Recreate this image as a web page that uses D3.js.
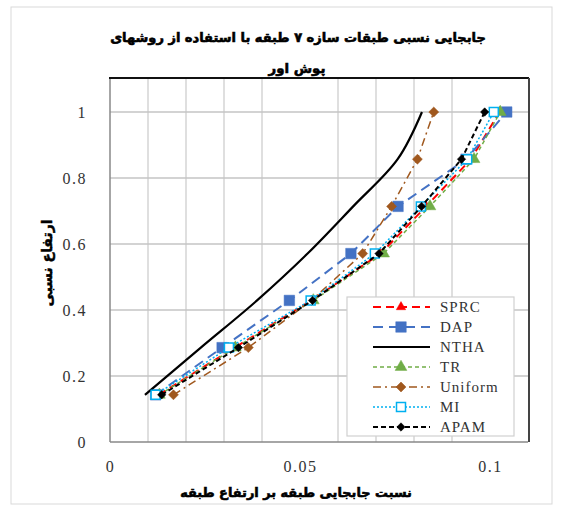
<!DOCTYPE html>
<html><head><meta charset="utf-8">
<script src="https://cdn.jsdelivr.net/npm/d3@7"></script>
<style>body{margin:0;background:#fff}svg{display:block}</style>
</head><body>
<svg id="c" width="565" height="508"></svg>
<script>
const levels = [0.143, 0.286, 0.429, 0.571, 0.714, 0.857, 1.0];
const SPRC    = [0.0128, 0.0328, 0.0530, 0.0712, 0.0832, 0.0950, 0.1025];
const DAP     = [0.0120, 0.0295, 0.0472, 0.0634, 0.0758, 0.0937, 0.1044];
const NTHA    = [0.0092, 0.0239, 0.0387, 0.0520, 0.0640, 0.0757, 0.0821];
const TR      = [0.0130, 0.0330, 0.0535, 0.0720, 0.0842, 0.0958, 0.1027];
const Uniform = [0.0167, 0.0364, 0.0530, 0.0665, 0.0741, 0.0809, 0.0852];
const MI      = [0.0120, 0.0313, 0.0528, 0.0697, 0.0818, 0.0940, 0.1010];
const APAM    = [0.0136, 0.0338, 0.0533, 0.0708, 0.0820, 0.0925, 0.0986];
const seriesNames = ["SPRC","DAP","NTHA","TR","Uniform","MI","APAM"];
const xTickLabels = [0, 0.05, 0.1];
const yTickLabels = [0, 0.2, 0.4, 0.6, 0.8, 1];
const xGrid = [0.01,0.02,0.03,0.04,0.06,0.07,0.08,0.09];
const titleLines = ["جابجایی نسبی طبقات سازه ۷ طبقه با استفاده از روشهای", "پوش اور"];
const xTitle = "نسبت جابجایی طبقه بر ارتفاع طبقه";
const yTitle = "ارتفاع نسبی";

const styles = {
  SPRC:    {color:"#FF0000", w:2,   dash:"8,5",     marker:"triangle", size:8,  fill:"#FF0000"},
  DAP:     {color:"#4472C4", w:2,   dash:"10,6",    marker:"square",   size:10.5, fill:"#4472C4"},
  NTHA:    {color:"#000000", w:2.2, dash:null,      marker:null},
  TR:      {color:"#70AD47", w:1.5, dash:"4,3",     marker:"triangle", size:10, fill:"#70AD47"},
  Uniform: {color:"#A0581E", w:1.5, dash:"8,4,2,4", marker:"diamond",  size:9.5, fill:"#A0581E"},
  MI:      {color:"#00B0F0", w:1.5, dash:"2,2",     marker:"square",   size:9,  fill:"#FFFFFF"},
  APAM:    {color:"#000000", w:2,   dash:"5,3",     marker:"diamond",  size:8,  fill:"#000000"}
};
const data = {SPRC, DAP, NTHA, TR, Uniform, MI, APAM};

const svg = d3.select("#c");
const L=110, R=528, T=79, B=442;
const x = d3.scaleLinear().domain([0,0.11]).range([L,R]);
const y = d3.scaleLinear().domain([0,1.1]).range([B,T]);

svg.append("rect").attr("x",11).attr("y",7).attr("width",541).attr("height",497)
  .attr("fill","#fff").attr("stroke","#d9d9d9").attr("stroke-width",1);

// gridlines
svg.append("g").selectAll("line").data(xGrid).join("line")
  .attr("x1",d=>x(d)).attr("x2",d=>x(d)).attr("y1",T).attr("y2",B)
  .attr("stroke","#d4d4d4").attr("stroke-width",1.5);
svg.append("g").selectAll("line").data(yTickLabels.filter(d=>d>0)).join("line")
  .attr("x1",L).attr("x2",R).attr("y1",d=>y(d)).attr("y2",d=>y(d))
  .attr("stroke","#c4c4c4").attr("stroke-width",1.5);

// borders
svg.append("line").attr("x1",L).attr("x2",L).attr("y1",T).attr("y2",B).attr("stroke","#888").attr("stroke-width",1.5);
svg.append("line").attr("x1",L).attr("x2",R).attr("y1",B).attr("y2",B).attr("stroke","#888").attr("stroke-width",1.5);
svg.append("line").attr("x1",L-1).attr("x2",R+1).attr("y1",T-1).attr("y2",T-1).attr("stroke","#111").attr("stroke-width",2);
svg.append("line").attr("x1",R+1).attr("x2",R+1).attr("y1",T-1).attr("y2",B).attr("stroke","#444").attr("stroke-width",2);

// axes
const xAxis = svg.append("g").attr("transform",`translate(0,${B+24})`)
  .call(d3.axisBottom(x).tickValues(xTickLabels).tickSize(0).tickFormat(d=>String(d)));
xAxis.select(".domain").remove();
const yAxis = svg.append("g").attr("transform",`translate(${L-20},0)`)
  .call(d3.axisLeft(y).tickValues(yTickLabels).tickSize(0).tickFormat(d=>String(d)));
yAxis.select(".domain").remove();
svg.selectAll(".tick text").attr("font-family","Liberation Serif").attr("font-size",16)
  .attr("fill","#333").style("letter-spacing","1.5px");
yAxis.selectAll(".tick text").attr("dx",0).attr("dy","0.35em");
xAxis.selectAll(".tick text").attr("dy","0.35em").attr("y",0);

// series
function markerPath(type,size){
  if(type==="triangle") return d3.symbol().type(d3.symbolTriangle).size(size*size*0.6)();
  if(type==="square") return d3.symbol().type(d3.symbolSquare).size(size*size)();
  if(type==="diamond") return d3.symbol().type(d3.symbolSquare).size(size*size*0.55)();
  return null;
}
const line = d3.line().x(d=>x(d[0])).y(d=>y(d[1]));
const smooth = d3.line().x(d=>x(d[0])).y(d=>y(d[1])).curve(d3.curveCatmullRom.alpha(0.5));

seriesNames.forEach(name=>{
  const s = styles[name];
  const pts = data[name].map((v,i)=>[v, levels[i]]);
  const g = svg.append("g");
  g.append("path").attr("d", name==="NTHA"?smooth(pts):line(pts))
    .attr("fill","none").attr("stroke",s.color).attr("stroke-width",s.w)
    .attr("stroke-dasharray",s.dash).attr("stroke-linejoin","round");
  if(s.marker){
    g.selectAll("path.m").data(pts).join("path").attr("class","m")
      .attr("d",markerPath(s.marker,s.size))
      .attr("transform",d=>`translate(${x(d[0])},${y(d[1])})${s.marker==="diamond"?" rotate(45)":""}`)
      .attr("fill",s.fill).attr("stroke",s.color).attr("stroke-width",name==="MI"?1.5:0.5);
  }
});

// legend
const lg = svg.append("g");
lg.append("rect").attr("x",347).attr("y",297).attr("width",167).attr("height",139)
  .attr("fill","#fff").attr("stroke","#d0d0d0").attr("stroke-width",1.2);
seriesNames.forEach((name,i)=>{
  const s = styles[name];
  const yy = 307 + i*20;
  lg.append("line").attr("x1",373).attr("x2",430).attr("y1",yy).attr("y2",yy)
    .attr("stroke",s.color).attr("stroke-width",s.w).attr("stroke-dasharray",s.dash);
  if(s.marker){
    lg.append("path").attr("d",markerPath(s.marker,s.size))
      .attr("transform",`translate(401,${yy})${s.marker==="diamond"?" rotate(45)":""}`)
      .attr("fill",s.fill).attr("stroke",s.color).attr("stroke-width",name==="MI"?1.5:0.5);
  }
  lg.append("text").attr("x",440).attr("y",yy).attr("dy","0.35em")
    .attr("font-family","Liberation Serif").attr("font-size",15).attr("fill","#333")
    .style("letter-spacing","1px").text(name);
});

// titles
function fitText(sel, width){
  const n = sel.node();
  const w = n.getComputedTextLength();
  const fs = parseFloat(sel.attr("font-size"));
  if(w>0) sel.attr("font-size", fs*width/w);
}
function arabic(xp, yp, txt, fs){
  return svg.append("text").attr("x",xp).attr("y",yp).attr("text-anchor","middle")
    .attr("font-family","DejaVu Sans").attr("font-weight","bold").attr("font-size",fs)
    .attr("direction","rtl").attr("fill","#000").attr("stroke","#000").attr("stroke-width",0.6)
    .text(txt);
}
const t1 = arabic(298, 42, titleLines[0], 14); fitText(t1, 376);
const t2 = arabic(297, 73, titleLines[1], 14); fitText(t2, 57);
const xt = arabic(296, 497, xTitle, 13); fitText(xt, 232);
const yt = svg.append("text").attr("transform","translate(52,263) rotate(-90)").attr("text-anchor","middle")
  .attr("font-family","DejaVu Sans").attr("font-weight","bold").attr("font-size",12)
  .attr("direction","rtl").attr("fill","#000").attr("stroke","#000").attr("stroke-width",0.5)
  .text(yTitle);
fitText(yt, 87);
</script>
</body></html>
